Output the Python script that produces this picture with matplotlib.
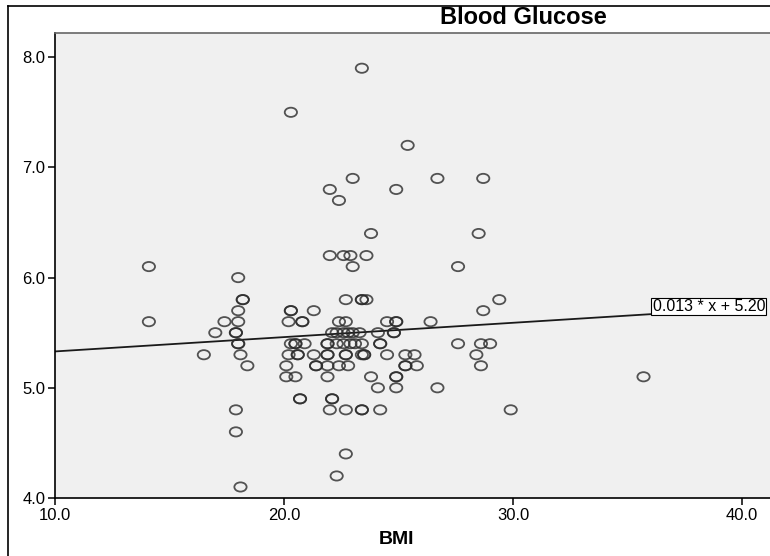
import numpy as np
import matplotlib
matplotlib.use('Agg')
import matplotlib.pyplot as plt
from matplotlib.path import Path
from matplotlib.lines import Line2D

plt.rcParams['font.family'] = ['Liberation Sans', 'DejaVu Sans']

#%% data (one line per glucose level)
bmi = [23.4,
       20.3,
       25.4,
       23.0, 26.7, 28.7,
       22.0, 24.9,
       22.4,
       23.8, 28.5,
       22.0, 22.6, 22.9, 23.6,
       14.1, 23.0, 27.6,
       18.0,
       18.2, 18.2, 22.7, 23.4, 23.4, 23.6, 29.4,
       18.0, 20.3, 20.3, 21.3, 28.7,
       14.1, 17.4, 18.0, 20.2, 20.8, 20.8, 22.4, 22.7, 24.5, 24.9, 24.9, 26.4,
       17.0, 17.9, 17.9, 22.1, 22.3, 22.6, 22.8, 23.0, 23.3, 24.1, 24.8, 24.8,
       18.0, 18.0, 20.3, 20.5, 20.5, 20.9, 21.9, 21.9, 22.3, 22.6, 22.9, 23.1,
       23.4, 24.2, 24.2, 27.6, 28.6, 29.0,
       16.5, 18.1, 20.2, 20.6, 20.6, 21.3, 21.9, 21.9, 22.7, 22.7, 23.4, 23.5,
       23.5, 24.5, 25.3, 25.7, 28.4,
       18.4, 20.1, 21.4, 21.4, 21.9, 22.4, 22.8, 25.3, 25.3, 25.8, 28.6,
       20.1, 20.5, 21.9, 23.8, 24.9, 24.9, 35.7,
       24.1, 24.9, 26.7,
       20.7, 20.7, 22.1, 22.1,
       17.9, 22.0, 22.7, 23.4, 23.4, 24.2, 29.9,
       17.9,
       22.7,
       22.3,
       18.1]

glucose = [7.9,
           7.5,
           7.2,
           6.9, 6.9, 6.9,
           6.8, 6.8,
           6.7,
           6.4, 6.4,
           6.2, 6.2, 6.2, 6.2,
           6.1, 6.1, 6.1,
           6.0,
           5.8, 5.8, 5.8, 5.8, 5.8, 5.8, 5.8,
           5.7, 5.7, 5.7, 5.7, 5.7,
           5.6, 5.6, 5.6, 5.6, 5.6, 5.6, 5.6, 5.6, 5.6, 5.6, 5.6, 5.6,
           5.5, 5.5, 5.5, 5.5, 5.5, 5.5, 5.5, 5.5, 5.5, 5.5, 5.5, 5.5,
           5.4, 5.4, 5.4, 5.4, 5.4, 5.4, 5.4, 5.4, 5.4, 5.4, 5.4, 5.4,
           5.4, 5.4, 5.4, 5.4, 5.4, 5.4,
           5.3, 5.3, 5.3, 5.3, 5.3, 5.3, 5.3, 5.3, 5.3, 5.3, 5.3, 5.3,
           5.3, 5.3, 5.3, 5.3, 5.3,
           5.2, 5.2, 5.2, 5.2, 5.2, 5.2, 5.2, 5.2, 5.2, 5.2, 5.2,
           5.1, 5.1, 5.1, 5.1, 5.1, 5.1, 5.1,
           5.0, 5.0, 5.0,
           4.9, 4.9, 4.9, 4.9,
           4.8, 4.8, 4.8, 4.8, 4.8, 4.8, 4.8,
           4.6,
           4.4,
           4.2,
           4.1]

# linear fit shown by SPSS
slope = 0.013
intercept = 5.20
fit_label = '0.013 * x + 5.20'
fit_end = 36.1

x_ticks = [10.0, 20.0, 30.0, 40.0]
y_ticks = [4.0, 5.0, 6.0, 7.0, 8.0]

#%% plot
# the screenshot is a bit stretched sideways, so markers are ovals
circ = Path.unit_circle()
oval = Path(circ.vertices * [1.33, 1.0], circ.codes)

fig = plt.figure(figsize=(7.7, 5.56), dpi=100)
ax = fig.add_axes([55/770, 58/556, 715/770, 465/556])
ax.set_facecolor('#f0f0f0')

ax.scatter(bmi, glucose, s=78, marker=oval, facecolors='none',
           edgecolors='#2a2a2a', linewidths=1.3, alpha=0.8, zorder=3)

xf = np.array([10.0, fit_end])
ax.plot(xf, slope*xf + intercept, color='#1a1a1a', lw=1.3, zorder=2)
ax.text(fit_end, slope*fit_end + intercept, fit_label, ha='left', va='bottom',
        fontsize=11.5, clip_on=False, zorder=4,
        bbox=dict(boxstyle='square,pad=0.08', fc='white', ec='black', lw=0.8))

ax.set_xlim(10, 10 + 715/22.9)
ax.set_ylim(4.0, 4.0 + 465/110.2)
ax.set_xticks(x_ticks)
ax.set_xticklabels(['%.1f' % v for v in x_ticks])
ax.set_yticks(y_ticks)
ax.set_yticklabels(['%.1f' % v for v in y_ticks])
ax.tick_params(direction='out', length=5, width=1.1, labelsize=12, pad=2)

ax.spines['right'].set_visible(False)
ax.spines['top'].set_color('#666666')
for s in ['left', 'bottom', 'top']:
    ax.spines[s].set_linewidth(1.2)

fig.text(523/770, 1 - 18/556, 'Blood Glucose', ha='center', va='center',
         fontsize=17, fontweight='bold')
fig.text(397/770, 1 - 540/556, 'BMI', ha='center', va='center',
         fontsize=14, fontweight='bold')

# outer frame of the SPSS chart window
fig.add_artist(Line2D([8/770, 8/770], [0, 1 - 6/556], transform=fig.transFigure,
                      color='black', lw=1.2))
fig.add_artist(Line2D([8/770, 1], [1 - 6/556, 1 - 6/556], transform=fig.transFigure,
                      color='black', lw=1.2))

fig.savefig('out.png', dpi=100)
